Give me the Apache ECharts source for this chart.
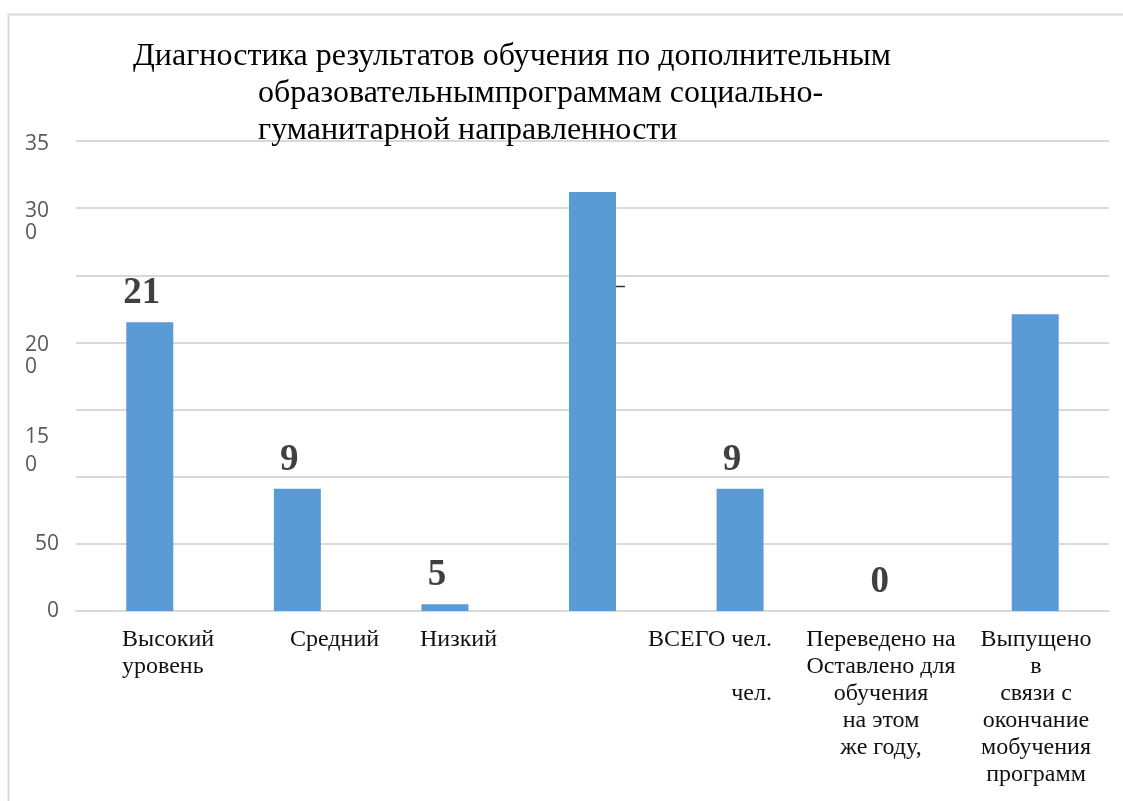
<!DOCTYPE html>
<html>
<head>
<meta charset="utf-8">
<script src="https://cdn.jsdelivr.net/npm/echarts@6/dist/echarts.min.js"></script>
<style>
html, body { margin: 0; padding: 0; background: #fff; }
#chart { width: 1123px; height: 801px; }
</style>
</head>
<body>
<div id="chart"></div>
<script>
// категории (как они видны на рисунке)
var categories = [
	'Высокий\nуровень',
	'Средний',
	'Низкий',
	'',
	'ВСЕГО чел.\n\nчел.',
	'Переведено на\nОставлено для\nобучения\nна этом\nже году,',
	'Выпущено\nв\nсвязи с\nокончание\nмобучения\nпрограмм'
];
// высоты столбцов по шкале оси
var barValues = [215, 91, 5, 312, 91, 0, 221];
// подписи над столбцами
var barLabels = ['21', '9', '5', '', '9', '0', ''];
// подписи оси Y (по 50)
var yTickLabels = ['0', '50', '', '15\n0', '20\n0', '', '30\n0', '35'];

var titleLines = [
	'Диагностика результатов обучения по дополнительным',
	'образовательнымпрограммам социально-',
	'гуманитарной направленности'
];

var gridLeft = 76, gridRight = 1109;
var step = (gridRight - gridLeft) / categories.length;

// положение подписей категорий: [левый край текста, ширина блока, выравнивание]
var xLabelPlace = [
	[122, 96, 'left'],
	[290, 92, 'left'],
	[420, 80, 'left'],
	[0, 10, 'center'],
	[640, 132, 'right'],
	[803, 156, 'center'],
	[975, 122, 'center']
];

var rich = {};
xLabelPlace.forEach(function(p, i) {
	var anchor = gridLeft + step * (i + 0.5);
	var pad = 2 * (p[0] - anchor) + p[1];
	rich['c' + i] = {
		width: p[1],
		align: p[2],
		fontFamily: 'Liberation Serif',
		fontSize: 24,
		lineHeight: 27,
		color: '#111',
		padding: pad >= 0 ? [0, 0, 0, pad] : [0, -pad, 0, 0]
	};
});

var yFont = { fontSize: 21, color: '#595959', fontFamily: 'Open Sans' };
var yRich = {
	w: Object.assign({ width: 34, align: 'left', lineHeight: 22 }, yFont),
	w28: Object.assign({ width: 34, align: 'left', lineHeight: 28 }, yFont),
	r: Object.assign({ lineHeight: 22 }, yFont),
	s6: { lineHeight: 6, height: 6, fontSize: 4 },
	s28: { lineHeight: 28, height: 28, fontSize: 4 },
	s82: { lineHeight: 82, height: 82, fontSize: 4 }
};

var chart = echarts.init(document.getElementById('chart'));
var option = {
	backgroundColor: '#fff',
	title: {
		text: '{a|' + titleLines[0] + '}\n{b|' + titleLines[1] + '}\n{b|' + titleLines[2] + '}',
		left: 133,
		top: 38,
		padding: 0,
		textStyle: {
			fontWeight: 'normal',
			rich: {
				a: { fontFamily: 'Liberation Serif', fontWeight: 'normal', fontSize: 32, lineHeight: 37, color: '#000' },
				b: { fontFamily: 'Liberation Serif', fontWeight: 'normal', fontSize: 32, lineHeight: 37, color: '#000', padding: [0, 0, 0, 125] }
			}
		}
	},
	grid: {
		left: gridLeft,
		right: 1123 - gridRight,
		top: 141,
		bottom: 190,
		containLabel: false
	},
	xAxis: {
		type: 'category',
		data: categories,
		axisLine: { lineStyle: { color: '#d9d9d9', width: 2 } },
		axisTick: { show: false },
		axisLabel: {
			interval: 0,
			margin: 15,
			formatter: function(val, idx) {
				if (!val) return '';
				return val.split('\n').map(function(l) {
					return '{c' + idx + '|' + (l || ' ') + '}';
				}).join('\n');
			},
			rich: rich
		}
	},
	yAxis: {
		type: 'value',
		min: 0,
		max: 350,
		interval: 50,
		axisLine: { show: false },
		axisTick: { show: false },
		splitLine: { lineStyle: { color: '#d9d9d9', width: 2 } },
		axisLabel: {
			margin: 17,
			formatter: function(v) {
				var t = yTickLabels[Math.round(v / 50)];
				if (!t) return '';
				var parts = t.split('\n');
				if (parts.length === 1) {
					if (v >= 300) return '{s6| }\n{w|' + t + '}';
					return '{r|' + t + '}';
				}
				if (v === 150) return '{s82| }\n{w28|' + parts[0] + '}\n{w28|' + parts[1] + '}';
				return '{s28| }\n{w|' + parts[0] + '}\n{w|' + parts[1] + '}';
			},
			rich: yRich
		}
	},
	series: [{
		type: 'bar',
		data: barValues,
		barWidth: 47,
		itemStyle: { color: '#5b9bd5' },
		label: {
			show: true,
			position: 'top',
			distance: 10,
			offset: [-8, 0],
			formatter: function(p) { return barLabels[p.dataIndex]; },
			fontFamily: 'Liberation Serif',
			fontWeight: 'bold',
			fontSize: 37,
			color: '#404040'
		}
	}],
	graphic: [{
		type: 'rect',
		shape: { x: 8.5, y: 14.5, width: 1400, height: 1000 },
		style: { fill: 'none', stroke: '#d9d9d9', lineWidth: 2 },
		silent: true
	}, {
		type: 'line',
		shape: { x1: 615, y1: 286.5, x2: 625, y2: 286.5 },
		style: { stroke: '#333', lineWidth: 1.5 },
		silent: true
	}]
};
chart.setOption(option);
</script>
</body>
</html>
